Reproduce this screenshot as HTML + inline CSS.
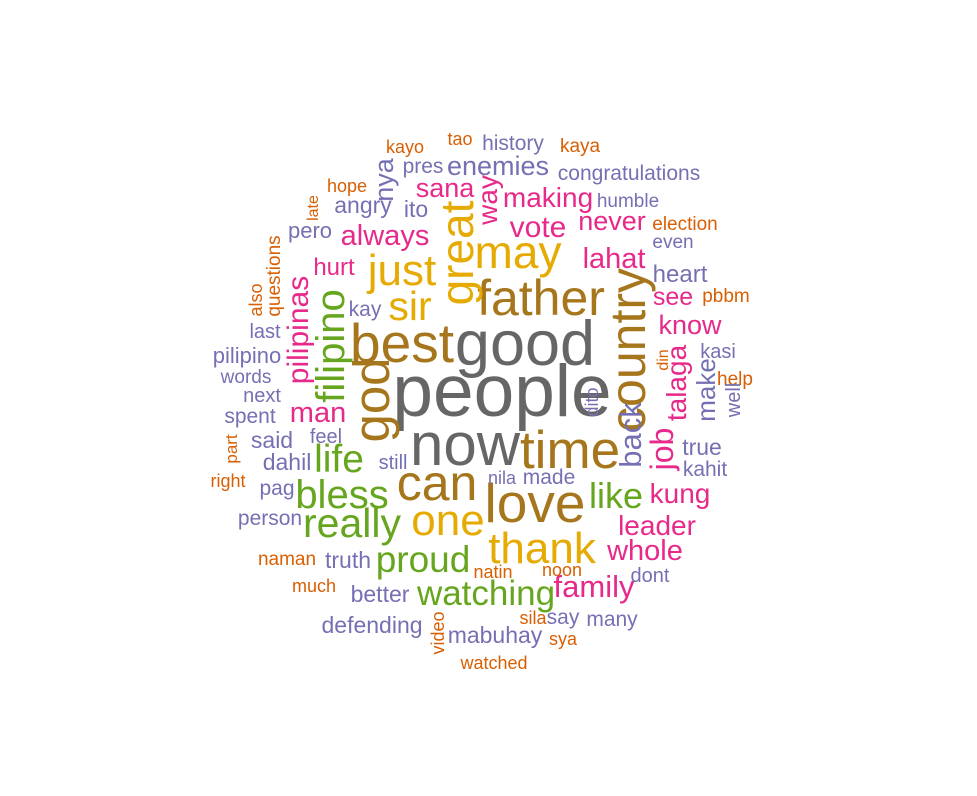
<!DOCTYPE html>
<html><head><meta charset="utf-8"><style>
html,body{margin:0;padding:0;background:#fff;}
svg{display:block;}
text{font-family:"Liberation Sans",Arial,sans-serif;}
</style></head>
<body>
<svg id="cloud" width="977" height="796" viewBox="0 0 977 796" xmlns="http://www.w3.org/2000/svg">
<rect width="977" height="796" fill="#ffffff"/>
</svg>
<script>
const words = ["good","people","now","best","father","time","can","love","may","just","sir","one","thank","really","bless","life","proud","watching","like","family","whole","leader","kung","vote","making","never","lahat","always","sana","enemies","history","kaya","congratulations","humble","election","even","heart","see","pbbm","know","kasi","help","true","kahit","dont","many","say","sila","sya","noon","natin","nila","made","mabuhay","watched","defending","better","truth","naman","much","person","pag","right","dahil","said","still","feel","spent","man","next","words","pilipino","last","kay","pero","hurt","angry","ito","hope","pres","kayo","tao",
"great","country","god","filipino","pilipinas","job","talaga","make","well","back","dito","din","nya","way","late","questions","also","part","video"];
const sizes = [63,73,60,55,50,53,50,55,46,44,41,44,44,41,40,39,37,35,36,31,29,28,28,30,28,27,29,29,27,27,21,19,21,19,19,19,24,25,19,27,20,19,23,21,20,21,21,18,18,18,18,18,21,23,18,23,23,23,19,18,21,21,18,23,23,20,20,21,29,20,19,22,20,21,22,24,23,23,18,21,18,18,
46,50,51,40,30,32,28,26,20,31,18,16,27,28,16,19,18,17,18];
const colorIdx = [0,0,0,1,1,1,1,1,2,2,2,2,2,3,3,3,3,3,3,4,4,4,4,4,4,4,4,4,4,5,5,6,5,5,6,5,5,4,6,4,5,6,5,5,5,5,5,6,6,6,6,5,5,5,6,5,5,5,6,6,5,5,6,5,5,5,5,5,4,5,5,5,5,5,5,4,5,5,6,5,6,6,
2,1,1,3,4,4,4,5,5,5,5,6,5,4,6,6,6,6,6];
const palette = ["#666666","#A6761D","#E6AB02","#66A61E","#E7298A","#7570B3","#D95F02"];
// layout: center x, baseline y (horizontal) / baseline x, center y (vertical)
const px = [525,502,465,402,541,570,437,535,518,402,410,448,542,352,342,339,423,486,616,594,645,657,680,538,548,612,614,385,445,498,513,580,629,628,685,673,680,673,726,690,718,735,702,705,650,612,563,533,563,562,493,502,549,495,494,372,380,348,287,314,270,277,228,287,272,393,326,250,318,262,246,247,265,365,310,334,363,416,347,423,405,460,
473,645,389,344,308,673,686,715,740,641,598,668,393,497,318,280,262,237,444];
const py = [365,416,465,362,315,468,500,522,268,285,320,535,563,537,508,472,572,605,508,597,560,535,503,237,207,230,268,245,197,175,150,152,180,207,230,248,282,305,302,334,358,385,455,476,582,626,624,624,645,576,578,484,484,643,669,633,602,568,565,592,525,495,487,470,448,469,443,423,422,402,383,363,338,316,238,275,213,217,192,173,153,145,
253,350,400,346,330,449,383,390,400,435,402,360,180,200,208,276,300,449,633];
const rot = words.map((w,i)=> i>=82 ? -90 : 0);

const svg = document.getElementById('cloud');
const NS = "http://www.w3.org/2000/svg";
words.forEach((w,i)=>{
  const t = document.createElementNS(NS,'text');
  
  
  t.setAttribute('text-anchor','middle');
  t.setAttribute('font-size', sizes[i]);
  t.setAttribute('fill', palette[colorIdx[i]]);
  t.setAttribute('transform', 'translate(' + px[i] + ',' + py[i] + ') rotate(' + rot[i] + ')');
  t.textContent = w;
  svg.appendChild(t);
});
</script>
</body></html>
